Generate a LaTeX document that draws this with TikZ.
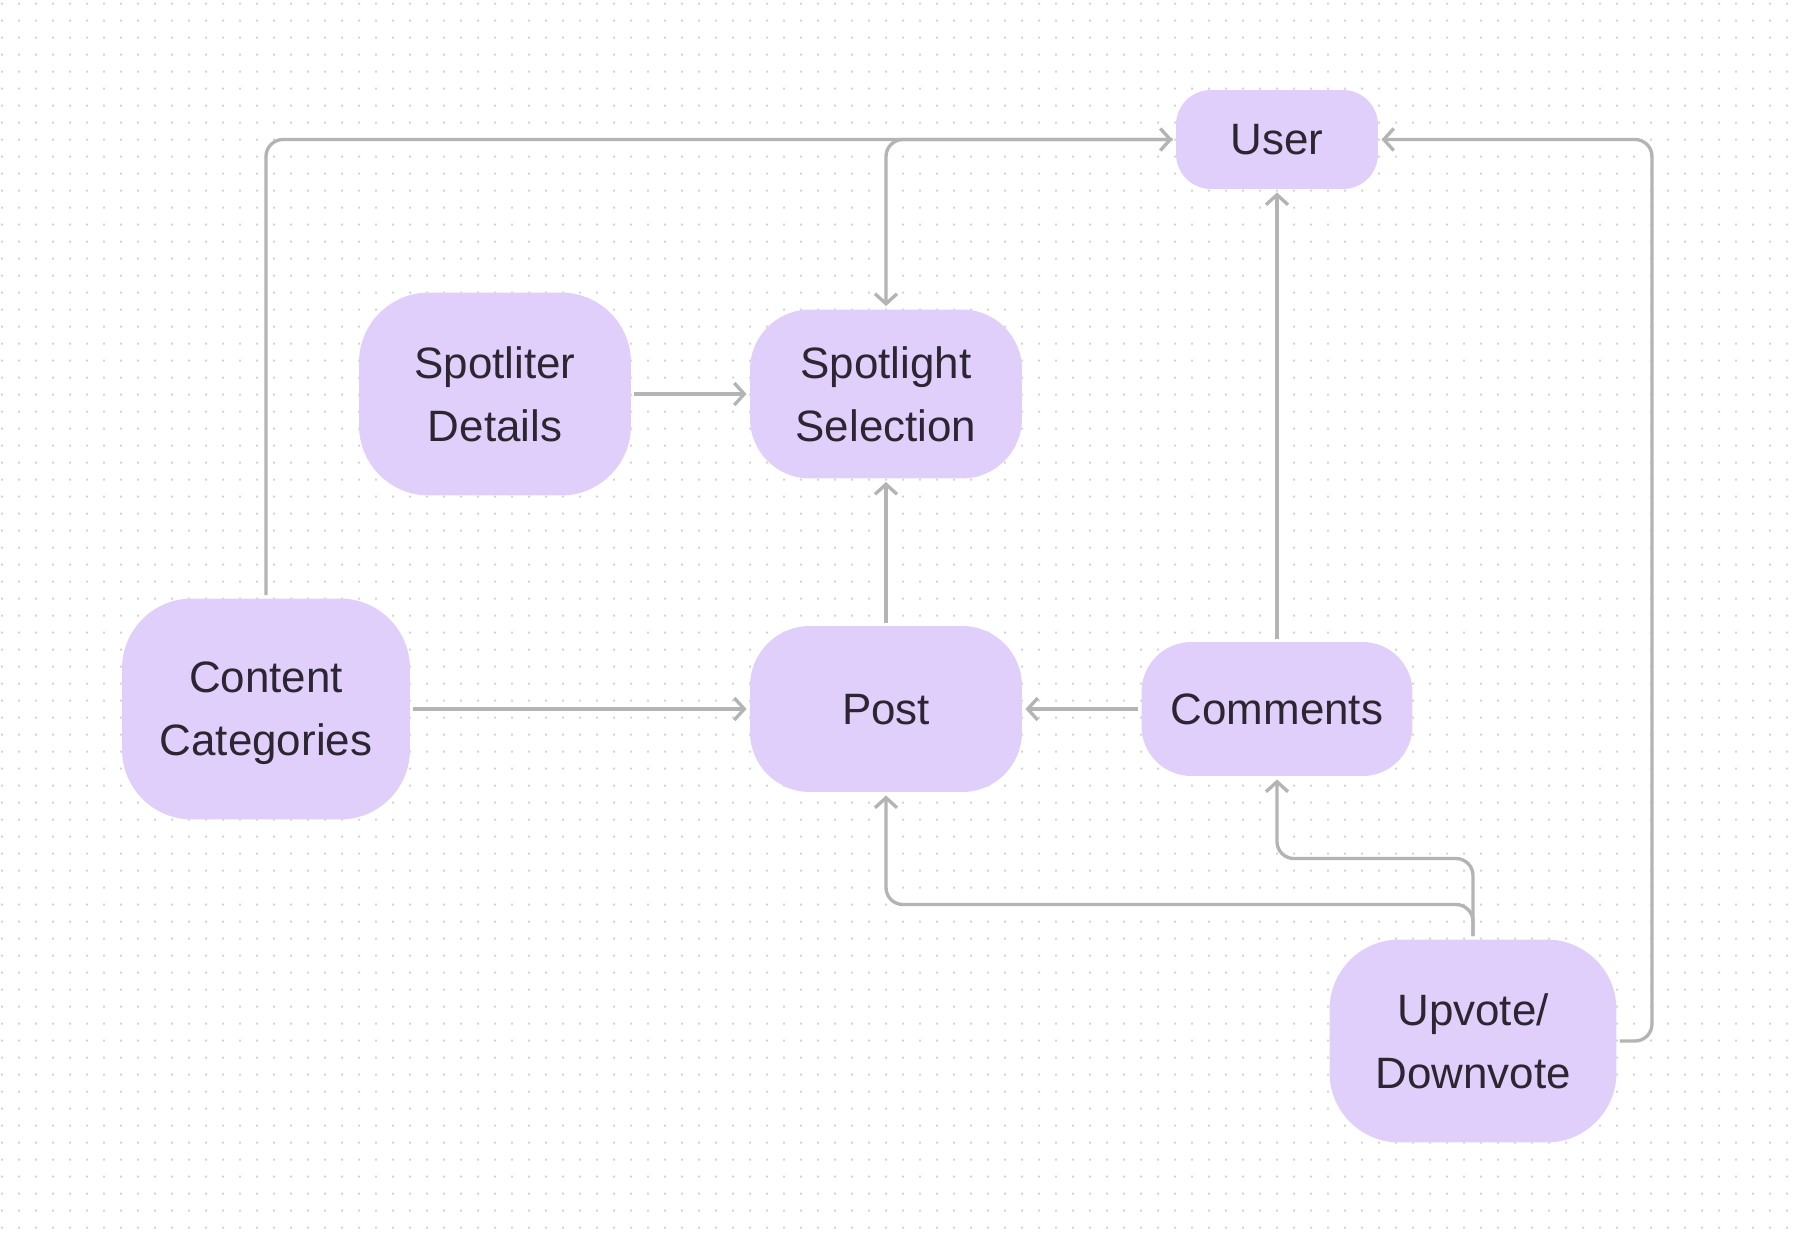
\documentclass[tikz,border=0pt]{standalone}
\usepackage{fontspec}
\setmainfont{Liberation Sans}
\usetikzlibrary{arrows.meta,positioning}
\definecolor{boxfill}{HTML}{E0CFFA}
\definecolor{linkgray}{HTML}{B4B4B4}
\definecolor{inkdark}{HTML}{2B2631}
\definecolor{dotgray}{HTML}{D4D4D4}

\begin{document}
\begin{tikzpicture}[
  x=0.02cm, y=-0.02cm,
  block/.style={fill=boxfill, text=inkdark, align=center, font=\fontsize{25}{36}\selectfont,
    inner sep=0pt, outer sep=0.07cm, text depth=0pt, rounded corners=1.4cm},
  link/.style={draw=linkgray, line width=1.9pt, rounded corners=0.34cm,
    -{Straight Barb[length=0.2cm, width=0.44cm]}}
]
\fill[white] (0,0) rectangle (1800,1238);
\useasboundingbox (0,0) rectangle (1800,1238);
\foreach \i in {0,...,105}
  \fill[dotgray] \foreach \j in {0,...,72} {(1+17*\i,2.5+17*\j) rectangle ++(2,2)};

\node[block, minimum width=4.04cm, minimum height=1.98cm, rounded corners=0.7cm] (user) at (1277,139.5) {User};
\node[block, minimum width=5.44cm, minimum height=4.06cm] (details) at (495,394) {Spotliter\\Details};
\node[block, minimum width=5.44cm, minimum height=3.38cm, rounded corners=1.2cm] (spotlight) at (886,394) {Spotlight\\Selection};
\node[block, minimum width=5.76cm, minimum height=4.42cm] (categories) at (266,709) {Content\\Categories};
\node[block, minimum width=5.44cm, minimum height=3.32cm, rounded corners=1.2cm] (post) at (886,709) {Post};
\node[block, minimum width=5.42cm, minimum height=2.68cm, rounded corners=1cm] (comments) at (1277,709) {Comments};
\node[block, minimum width=5.74cm, minimum height=4.06cm] (vote) at (1473,1041) {Upvote/\\Downvote};

\draw[link] (categories.north) |- (user.west);
\draw[link] (user.west) -| (spotlight.north);
\draw[link] (details.east) -- (spotlight.west);
\draw[link] (post.north) -- (spotlight.south);
\draw[link] (categories.east) -- (post.west);
\draw[link] (comments.west) -- (post.east);
\draw[link] (comments.north) -- (user.south);
\draw[link] (vote.north) -- ++(0,-31.5) -| (post.south);
\draw[link] (vote.north) -- ++(0,-77.5) -| (comments.south);
\draw[link] (vote.east) -- ++(32,0) |- (user.east);
\end{tikzpicture}
\end{document}
